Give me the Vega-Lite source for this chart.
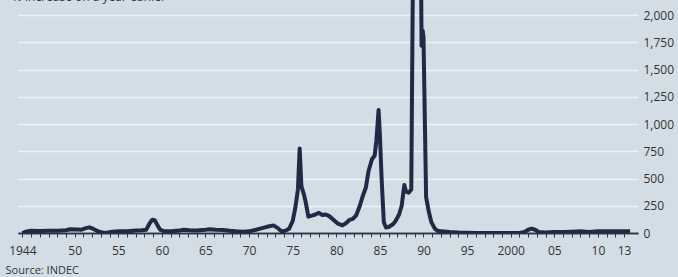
{
  "$schema": "https://vega.github.io/schema/vega-lite/v6.json",
  "width": 620,
  "height": 233,
  "autosize": {"type": "none"},
  "padding": {"top": 0, "left": 18, "right": 40, "bottom": 44},
  "background": "#d3dde5",
  "title": {
    "text": "% increase on a year earlier",
    "anchor": "start",
    "frame": "group",
    "dx": -6,
    "dy": 4,
    "offset": 0,
    "font": "Open Sans",
    "fontSize": 12,
    "fontWeight": "normal",
    "color": "#333333"
  },
  "config": {"view": {"stroke": null}},
  "data": {
    "values": [
      {"year": 1944.0, "inflation": 0},
      {"year": 1944.5, "inflation": 15},
      {"year": 1945.0, "inflation": 20},
      {"year": 1946.0, "inflation": 18},
      {"year": 1947.0, "inflation": 20},
      {"year": 1948.0, "inflation": 20},
      {"year": 1949.0, "inflation": 25},
      {"year": 1949.5, "inflation": 35},
      {"year": 1950.3, "inflation": 32},
      {"year": 1950.8, "inflation": 30},
      {"year": 1951.3, "inflation": 45},
      {"year": 1951.7, "inflation": 52},
      {"year": 1952.2, "inflation": 35},
      {"year": 1952.7, "inflation": 15},
      {"year": 1953.3, "inflation": 3},
      {"year": 1953.8, "inflation": 5},
      {"year": 1954.3, "inflation": 12},
      {"year": 1955.0, "inflation": 15},
      {"year": 1956.0, "inflation": 15},
      {"year": 1957.0, "inflation": 22},
      {"year": 1957.7, "inflation": 25},
      {"year": 1958.2, "inflation": 30},
      {"year": 1958.6, "inflation": 90},
      {"year": 1958.9, "inflation": 122},
      {"year": 1959.2, "inflation": 115},
      {"year": 1959.5, "inflation": 70},
      {"year": 1959.8, "inflation": 30},
      {"year": 1960.2, "inflation": 18},
      {"year": 1961.0, "inflation": 15},
      {"year": 1962.0, "inflation": 22},
      {"year": 1962.5, "inflation": 30},
      {"year": 1963.2, "inflation": 25},
      {"year": 1964.0, "inflation": 22},
      {"year": 1965.0, "inflation": 30},
      {"year": 1965.5, "inflation": 35},
      {"year": 1966.2, "inflation": 30},
      {"year": 1967.0, "inflation": 28},
      {"year": 1967.8, "inflation": 20},
      {"year": 1968.5, "inflation": 15},
      {"year": 1969.3, "inflation": 12},
      {"year": 1970.0, "inflation": 15},
      {"year": 1970.8, "inflation": 30},
      {"year": 1971.5, "inflation": 45},
      {"year": 1972.2, "inflation": 60},
      {"year": 1972.8, "inflation": 70},
      {"year": 1973.3, "inflation": 45},
      {"year": 1973.7, "inflation": 15},
      {"year": 1974.2, "inflation": 22},
      {"year": 1974.6, "inflation": 40},
      {"year": 1975.0, "inflation": 110},
      {"year": 1975.3, "inflation": 230},
      {"year": 1975.6, "inflation": 400},
      {"year": 1975.8, "inflation": 775},
      {"year": 1976.0, "inflation": 430},
      {"year": 1976.3, "inflation": 350},
      {"year": 1976.5, "inflation": 280},
      {"year": 1976.8, "inflation": 150},
      {"year": 1977.2, "inflation": 160},
      {"year": 1977.6, "inflation": 170},
      {"year": 1978.0, "inflation": 185},
      {"year": 1978.4, "inflation": 165},
      {"year": 1978.8, "inflation": 170},
      {"year": 1979.2, "inflation": 155},
      {"year": 1979.7, "inflation": 120},
      {"year": 1980.2, "inflation": 85},
      {"year": 1980.7, "inflation": 70},
      {"year": 1981.1, "inflation": 90},
      {"year": 1981.5, "inflation": 120},
      {"year": 1981.9, "inflation": 130},
      {"year": 1982.3, "inflation": 165},
      {"year": 1982.7, "inflation": 250},
      {"year": 1983.0, "inflation": 330},
      {"year": 1983.4, "inflation": 420},
      {"year": 1983.7, "inflation": 570},
      {"year": 1984.1, "inflation": 680},
      {"year": 1984.4, "inflation": 710},
      {"year": 1984.6, "inflation": 850},
      {"year": 1984.85, "inflation": 1130},
      {"year": 1985.0, "inflation": 900},
      {"year": 1985.2, "inflation": 500},
      {"year": 1985.45, "inflation": 100},
      {"year": 1985.7, "inflation": 50},
      {"year": 1986.0, "inflation": 55},
      {"year": 1986.5, "inflation": 80},
      {"year": 1986.8, "inflation": 110},
      {"year": 1987.2, "inflation": 170},
      {"year": 1987.5, "inflation": 250},
      {"year": 1987.8, "inflation": 440},
      {"year": 1988.0, "inflation": 380},
      {"year": 1988.3, "inflation": 370},
      {"year": 1988.6, "inflation": 400},
      {"year": 1988.8, "inflation": 2500},
      {"year": 1989.1, "inflation": 5000},
      {"year": 1989.5, "inflation": 3500},
      {"year": 1989.72, "inflation": 2400},
      {"year": 1989.78, "inflation": 1720},
      {"year": 1989.9, "inflation": 1860},
      {"year": 1990.0, "inflation": 1800},
      {"year": 1990.3, "inflation": 330},
      {"year": 1990.6, "inflation": 200},
      {"year": 1990.9, "inflation": 100},
      {"year": 1991.3, "inflation": 40},
      {"year": 1991.6, "inflation": 20},
      {"year": 1992.0, "inflation": 17},
      {"year": 1993.0, "inflation": 10},
      {"year": 1994.0, "inflation": 5},
      {"year": 1995.0, "inflation": 3},
      {"year": 1996.0, "inflation": 1},
      {"year": 1997.0, "inflation": 1},
      {"year": 1998.0, "inflation": 1},
      {"year": 1999.0, "inflation": 0},
      {"year": 2000.0, "inflation": 0},
      {"year": 2001.0, "inflation": 0},
      {"year": 2001.6, "inflation": 10},
      {"year": 2002.0, "inflation": 30},
      {"year": 2002.4, "inflation": 40},
      {"year": 2002.8, "inflation": 30},
      {"year": 2003.2, "inflation": 10},
      {"year": 2004.0, "inflation": 5},
      {"year": 2005.0, "inflation": 10},
      {"year": 2006.0, "inflation": 10},
      {"year": 2007.0, "inflation": 12},
      {"year": 2008.0, "inflation": 15},
      {"year": 2009.0, "inflation": 10},
      {"year": 2010.0, "inflation": 15},
      {"year": 2011.0, "inflation": 15},
      {"year": 2012.0, "inflation": 15},
      {"year": 2013.0, "inflation": 15},
      {"year": 2013.7, "inflation": 15}
    ]
  },
  "mark": {"type": "line", "color": "#1f2b44", "strokeWidth": 4, "clip": true, "strokeJoin": "round"},
  "encoding": {
    "x": {
      "field": "year",
      "type": "quantitative",
      "scale": {"domain": [1943.5, 2014.6], "nice": false, "zero": false},
      "axis": {
        "values": [1944,1945,1946,1947,1948,1949,1950,1951,1952,1953,1954,1955,1956,1957,1958,1959,1960,1961,1962,1963,1964,1965,1966,1967,1968,1969,1970,1971,1972,1973,1974,1975,1976,1977,1978,1979,1980,1981,1982,1983,1984,1985,1986,1987,1988,1989,1990,1991,1992,1993,1994,1995,1996,1997,1998,1999,2000,2001,2002,2003,2004,2005,2006,2007,2008,2009,2010,2011,2012,2013],
        "labelExpr": "datum.value == 1944 ? '1944' : datum.value == 2000 ? '2000' : datum.value == 1945 ? '' : (datum.value % 5 == 0 || datum.value == 2013) ? slice(format(datum.value, 'd'), 2) : ''",
        "labelOverlap": false,
        "labelFont": "Open Sans",
        "labelFontSize": 12,
        "labelColor": "#333333",
        "labelPadding": 8,
        "tickSize": 4,
        "tickColor": "#2a3444",
        "domainColor": "#2a3444",
        "domainWidth": 1.5,
        "grid": false,
        "title": "Source: INDEC",
        "titleFont": "Open Sans",
        "titleFontSize": 11,
        "titleFontWeight": "normal",
        "titleColor": "#333333",
        "titleAnchor": "start",
        "titleAlign": "left",
        "titleBaseline": "middle",
        "titleX": -13,
        "titleY": 37
      }
    },
    "y": {
      "field": "inflation",
      "type": "quantitative",
      "scale": {"domain": [0, 2140], "nice": false},
      "axis": {
        "orient": "right",
        "values": [0, 250, 500, 750, 1000, 1250, 1500, 1750, 2000],
        "format": ",d",
        "labelFont": "Open Sans",
        "labelFontSize": 12,
        "labelColor": "#333333",
        "labelPadding": 5,
        "ticks": false,
        "domain": false,
        "grid": true,
        "gridColor": {"condition": {"test": "datum.value === 0", "value": "#2a3444"}, "value": "#eef3f6"},
        "gridWidth": 1.5,
        "title": null
      }
    }
  }
}
